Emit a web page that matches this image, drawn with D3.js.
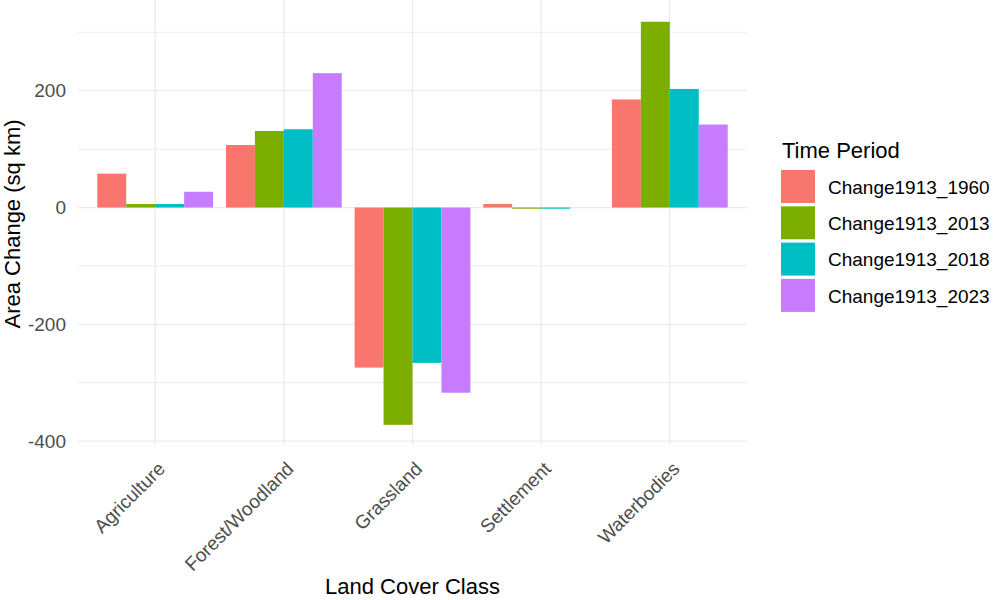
<!DOCTYPE html>
<html>
<head>
<meta charset="utf-8">
<script src="https://cdn.jsdelivr.net/npm/d3@7"></script>
<style>
  body { margin: 0; background: #fff; }
  svg { display: block; font-family: "Liberation Sans", Arial, sans-serif; }
</style>
</head>
<body>
<div id="container"></div>
<script>
const categories = ["Agriculture", "Forest/Woodland", "Grassland", "Settlement", "Waterbodies"];
const periods = ["Change1913_1960", "Change1913_2013", "Change1913_2018", "Change1913_2023"];
const change1960 = [58, 107, -274, 6, 185];
const change2013 = [6, 131, -372, -2, 318];
const change2018 = [6, 134, -266, -2, 203];
const change2023 = [27, 230, -317, 0, 142];
const yMajorTicks = [-400, -200, 0, 200];
const yMinorTicks = [-300, -100, 100, 300];

const colors = ["#F8766D", "#7CAE00", "#00BFC4", "#C77CFF"];
const seriesValues = [change1960, change2013, change2018, change2023];

const width = 996;
const height = 600;
const panel = { left: 78, right: 747, top: 1.6, bot: 445 };

const data = [];
categories.forEach((c, i) => {
  periods.forEach((p, j) => {
    data.push({ cat: c, period: p, value: seriesValues[j][i] });
  });
});

const svg = d3.select("#container")
              .append("svg")
              .attr("width", width)
              .attr("height", height);

// ggplot style: 5% expansion on the continuous axis
const yMin = d3.min(data, (d) => d.value);
const yMax = d3.max(data, (d) => d.value);
const ySpan = yMax - yMin;
const yScale = d3.scaleLinear()
                 .domain([yMin - ySpan*0.05, yMax + ySpan*0.05])
                 .range([panel.bot, panel.top]);

const xScale = d3.scaleBand()
                 .domain(categories)
                 .range([panel.left, panel.right])
                 .paddingInner(0.1)
                 .paddingOuter(0.15);
const xSub = d3.scaleBand()
               .domain(periods)
               .range([0, xScale.bandwidth()]);
const color = d3.scaleOrdinal().domain(periods).range(colors);

// grid
svg.selectAll("line.minor")
   .data(yMinorTicks)
   .enter()
   .append("line")
   .attr("class", "minor")
   .attr("x1", panel.left)
   .attr("x2", panel.right)
   .attr("y1", (d) => yScale(d))
   .attr("y2", (d) => yScale(d))
   .attr("stroke", "#EBEBEB")
   .attr("stroke-width", 1);
svg.selectAll("line.major")
   .data(yMajorTicks)
   .enter()
   .append("line")
   .attr("class", "major")
   .attr("x1", panel.left)
   .attr("x2", panel.right)
   .attr("y1", (d) => yScale(d))
   .attr("y2", (d) => yScale(d))
   .attr("stroke", "#EBEBEB")
   .attr("stroke-width", 1.3);
svg.selectAll("line.vgrid")
   .data(categories)
   .enter()
   .append("line")
   .attr("class", "vgrid")
   .attr("x1", (d) => xScale(d) + xScale.bandwidth()/2)
   .attr("x2", (d) => xScale(d) + xScale.bandwidth()/2)
   .attr("y1", panel.top - 2)
   .attr("y2", panel.bot)
   .attr("stroke", "#EBEBEB")
   .attr("stroke-width", 1.3);

// bars
svg.selectAll("rect.bar")
   .data(data)
   .enter()
   .append("rect")
   .attr("class", "bar")
   .attr("x", (d) => xScale(d.cat) + xSub(d.period))
   .attr("width", xSub.bandwidth())
   .attr("y", (d) => yScale(Math.max(0, d.value)))
   .attr("height", (d) => Math.abs(yScale(d.value) - yScale(0)))
   .attr("fill", (d) => color(d.period));

// y axis labels (plain hyphen for negatives, like R)
const yAxis = d3.axisLeft(yScale)
                .tickValues(yMajorTicks)
                .tickFormat((d) => String(d))
                .tickSize(0)
                .tickPadding(0);
const yg = svg.append("g")
   .attr("transform", "translate(66, 0)")
   .call(yAxis);
yg.select(".domain").remove();
yg.selectAll("text")
  .attr("fill", "#4D4D4D")
  .style("font-size", "19px")
  .style("font-family", "'Liberation Sans', Arial, sans-serif");

// x axis labels
const xAxis = d3.axisBottom(xScale).tickSize(0).tickPadding(0);
const xg = svg.append("g")
   .attr("transform", "translate(0, 470)")
   .call(xAxis);
xg.select(".domain").remove();
xg.selectAll("text")
  .attr("fill", "#4D4D4D")
  .attr("y", 0)
  .attr("dy", 0)
  .attr("text-anchor", "end")
  .attr("transform", "translate(11, 0) rotate(-45)")
  .style("font-size", "19px")
  .style("font-family", "'Liberation Sans', Arial, sans-serif");

// axis titles
svg.append("text")
   .text("Land Cover Class")
   .attr("x", (panel.left + panel.right)/2)
   .attr("y", 594)
   .attr("text-anchor", "middle")
   .style("font-size", "22px");
svg.append("text")
   .text("Area Change (sq km)")
   .attr("text-anchor", "middle")
   .attr("transform", "translate(20, 224) rotate(-90)")
   .style("font-size", "22px");

// legend
const legend = svg.append("g").attr("transform", "translate(781, 0)");
legend.append("text")
      .text("Time Period")
      .attr("x", 1)
      .attr("y", 158)
      .style("font-size", "22px");
const items = legend.selectAll("g.item")
      .data(periods)
      .enter()
      .append("g")
      .attr("class", "item")
      .attr("transform", (d, i) => "translate(0, " + (170 + i*36.3) + ")");
items.append("rect")
     .attr("width", 34)
     .attr("height", 33)
     .attr("fill", (d) => color(d));
items.append("text")
     .text((d) => d)
     .attr("x", 47)
     .attr("y", 17)
     .attr("dy", "0.35em")
     .style("font-size", "19px");
</script>
</body>
</html>
